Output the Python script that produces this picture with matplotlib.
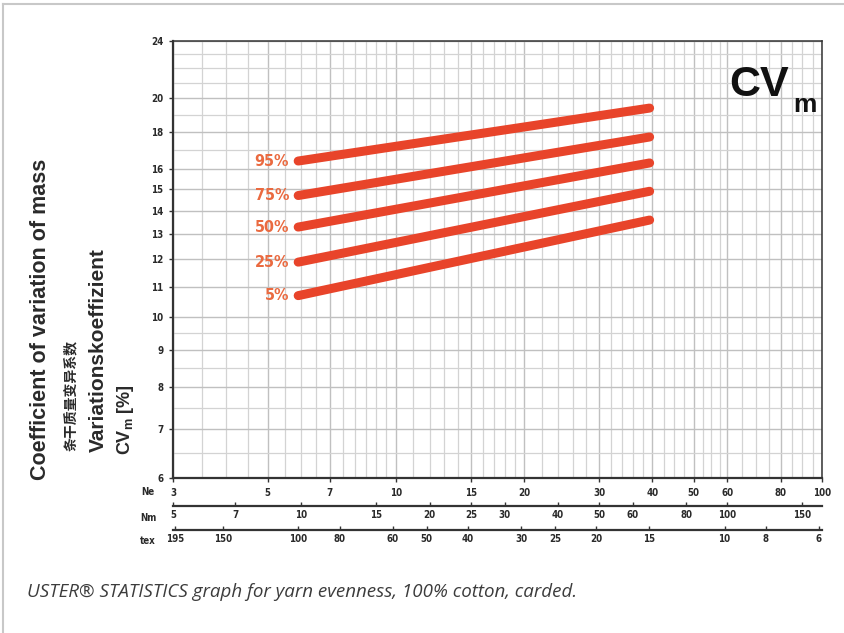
import numpy as np
import matplotlib
matplotlib.use('Agg')
import matplotlib.pyplot as plt
from matplotlib import ticker
from matplotlib.lines import Line2D

# yarn count range of the curves (Ne), from tex 100 to tex 15
ne_range = [5.9, 39.4]

# percentile curves, CVm [%] at start and end of range
p95 = [16.4, 19.4]
p75 = [14.7, 17.7]
p50 = [13.3, 16.3]
p25 = [11.9, 14.9]
p5 = [10.7, 13.6]
curves = [p95, p75, p50, p25, p5]
curve_labels = ['95%', '75%', '50%', '25%', '5%']

# axis ticks
y_ticks = [6, 7, 8, 9, 10, 11, 12, 13, 14, 15, 16, 18, 20, 24]
ne_ticks = [3, 5, 7, 10, 15, 20, 30, 40, 50, 60, 80, 100]
nm_ticks = [5, 7, 10, 15, 20, 25, 30, 40, 50, 60, 80, 100, 150]
tex_ticks = [195, 150, 100, 80, 60, 50, 40, 30, 25, 20, 15, 10, 8, 6]

# grid lines
y_grid = list(np.arange(6, 10, 0.5)) + list(range(10, 25))
x_grid = (list(np.arange(3, 10, 0.5)) + list(range(10, 20)) + list(range(20, 40, 2))
          + list(np.arange(40, 60, 2.5)) + list(range(60, 101, 5)))

line_color = '#e8442a'
label_color = '#ea6a40'
text_color = '#2a2a2a'


def ne_to_nm(x):
    return np.asarray(x, dtype=float) * 5 / 3


def nm_to_ne(x):
    return np.asarray(x, dtype=float) * 3 / 5


def ne_to_tex(x):
    x = np.asarray(x, dtype=float)
    with np.errstate(divide='ignore'):
        return 590.5 / x


fig = plt.figure(figsize=(8.44, 6.33), dpi=100)
W, H = 844, 633
ax = fig.add_axes([173 / W, 1 - 478 / H, 649 / W, 437 / H])
ax.set_xscale('log')
ax.set_yscale('log')
ax.set_xlim(3, 100)
ax.set_ylim(6, 24)

# grid
ax.xaxis.set_minor_locator(ticker.FixedLocator(x_grid))
ax.yaxis.set_minor_locator(ticker.FixedLocator(y_grid))
ax.xaxis.set_minor_formatter(ticker.NullFormatter())
ax.yaxis.set_minor_formatter(ticker.NullFormatter())
ax.tick_params(which='minor', length=0)
ax.grid(which='minor', color='#d3d3d3', lw=0.9)
ax.grid(which='major', color='#c0c0c0', lw=1.0)
ax.set_axisbelow(True)

tick_font = dict(size=7, weight='bold', color=text_color, fontstretch='condensed')

ax.set_yticks(y_ticks)
ax.set_yticklabels([str(v) for v in y_ticks], **tick_font)
ax.set_xticks(ne_ticks)
ax.set_xticklabels([str(v) for v in ne_ticks], **tick_font)
ax.tick_params(which='major', axis='both', length=3, width=1, color='#333333', pad=4)

for side in ['left', 'bottom']:
    ax.spines[side].set_linewidth(1.6)
    ax.spines[side].set_color('#333333')
for side in ['top', 'right']:
    ax.spines[side].set_linewidth(1.1)
    ax.spines[side].set_color('#333333')

# curves
for vals, lab in zip(curves, curve_labels):
    ax.plot(ne_range, vals, color=line_color, lw=6.5, solid_capstyle='round')
    ax.annotate(lab, xy=(ne_range[0], vals[0]), xytext=(-9, 0), textcoords='offset pixels',
                ha='right', va='center', color=label_color, size=11.5, weight='bold',
                fontstretch='condensed')

# secondary count axes
sec_nm = ax.secondary_xaxis(-28 / 437, functions=(ne_to_nm, nm_to_ne))
sec_nm.set_xticks(nm_ticks)
sec_nm.set_xticklabels([str(v) for v in nm_ticks], **tick_font)
sec_tex = ax.secondary_xaxis(-52 / 437, functions=(ne_to_tex, ne_to_tex))
sec_tex.set_xticks(tex_ticks)
sec_tex.set_xticklabels([str(v) for v in tex_ticks], **tick_font)
for sec in [sec_nm, sec_tex]:
    sec.xaxis.set_minor_locator(ticker.NullLocator())
    sec.tick_params(axis='x', direction='in', length=3, width=1, color='#333333', pad=3)
    sec.spines['bottom'].set_linewidth(1.6)
    sec.spines['bottom'].set_color('#333333')

for lab, yy in [('Ne', 492), ('Nm', 518), ('tex', 541)]:
    fig.text(148 / W, 1 - yy / H, lab, ha='center', va='center', **tick_font)

# y axis title, four languages
fig.text(41 / W, 1 - 480 / H, 'Coefficient of variation of mass', rotation=90,
         ha='center', va='bottom', size=15.5, weight='bold', color=text_color,
         family='Liberation Sans')
fig.text(71 / W, 1 - 451 / H, '条干质量变异系数', rotation=90, ha='center', va='bottom',
         size=10, weight='bold', color=text_color, family=['Noto Sans CJK SC', 'DejaVu Sans'])
fig.text(98 / W, 1 - 452 / H, 'Variationskoeffizient', rotation=90, ha='center', va='bottom',
         size=15, weight='bold', color=text_color, family='Liberation Sans')
fig.text(125 / W, 1 - 455 / H, r'CV$_{\mathregular{m}}$ [%]', rotation=90, ha='center',
         va='bottom', size=13, weight='bold', color=text_color, family='Liberation Sans')

# CVm label
fig.text(729 / W, 1 - 96 / H, 'CV', ha='left', va='baseline', size=31, weight='bold',
         color='#111111', family='Liberation Sans')
fig.text(793 / W, 1 - 112 / H, 'm', ha='left', va='baseline', size=19, weight='bold',
         color='#111111', family='Liberation Sans')

# caption
fig.text(27 / W, 1 - 592 / H,
         'USTER® STATISTICS graph for yarn evenness, 100% cotton, carded.',
         ha='left', va='center', size=13.5, style='italic', color='#3c3c3c', family='Open Sans')

# page frame
fig.add_artist(Line2D([3 / W, 3 / W], [0, 1 - 4 / H], transform=fig.transFigure,
                      color='#c8c8c8', lw=1.5))
fig.add_artist(Line2D([3 / W, 1], [1 - 4 / H, 1 - 4 / H], transform=fig.transFigure,
                      color='#c8c8c8', lw=1.5))

fig.savefig('out.png', dpi=100)
